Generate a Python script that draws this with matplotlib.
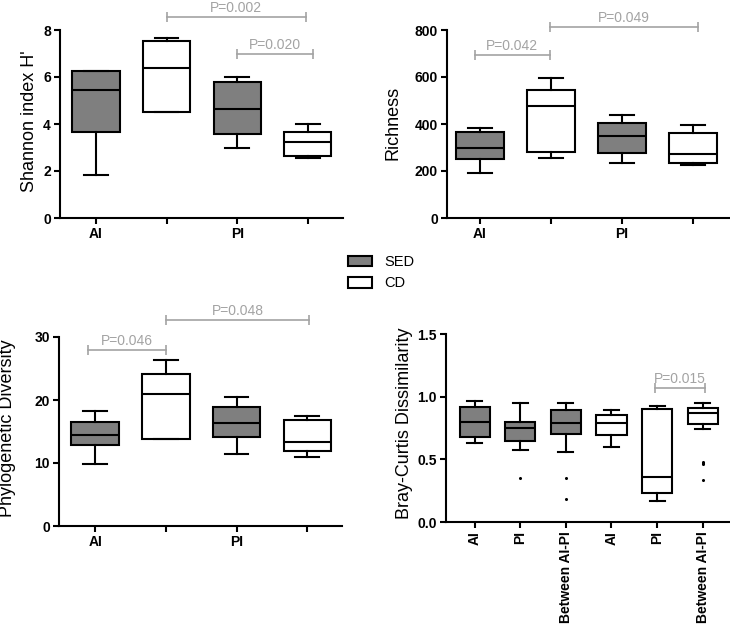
import matplotlib
matplotlib.use("Agg")
import matplotlib.pyplot as plt
from matplotlib.patches import Patch

plt.rcParams["font.family"] = ["Liberation Sans", "DejaVu Sans"]

SED_COLOR = "#7f7f7f"
CD_COLOR = "white"
P_COLOR = "#a3a3a3"

# box order in the three top/left panels: AI-SED, AI-CD, PI-SED, PI-CD
group_fill = [SED_COLOR, CD_COLOR, SED_COLOR, CD_COLOR]
group_labels = ["AI", "", "PI", ""]

# Shannon index H'
shannon_lo = [1.85, 4.49, 2.97, 2.54]
shannon_q1 = [3.65, 4.49, 3.56, 2.63]
shannon_med = [5.43, 6.40, 4.62, 3.24]
shannon_q3 = [6.24, 7.52, 5.79, 3.64]
shannon_hi = [6.27, 7.65, 6.00, 3.98]

# Richness
rich_lo = [190, 257, 233, 224]
rich_q1 = [251, 279, 278, 234]
rich_med = [298, 478, 351, 272]
rich_q3 = [364, 546, 405, 361]
rich_hi = [381, 594, 437, 395]

# Phylogenetic diversity
pd_lo = [9.8, 13.75, 11.5, 11.0]
pd_q1 = [12.9, 13.75, 14.1, 11.9]
pd_med = [14.5, 20.9, 16.4, 13.3]
pd_q3 = [16.5, 24.2, 18.9, 16.9]
pd_hi = [18.3, 26.4, 20.4, 17.5]

# Bray-Curtis: SED (AI, PI, Between) then CD (AI, PI, Between)
bc_labels = ["AI", "PI", "Between AI-PI", "AI", "PI", "Between AI-PI"]
bc_fill = [SED_COLOR] * 3 + [CD_COLOR] * 3
bc_lo = [0.63, 0.578, 0.557, 0.60, 0.168, 0.746]
bc_q1 = [0.68, 0.646, 0.70, 0.693, 0.234, 0.778]
bc_med = [0.80, 0.75, 0.79, 0.786, 0.357, 0.866]
bc_q3 = [0.92, 0.80, 0.893, 0.85, 0.903, 0.906]
bc_hi = [0.965, 0.946, 0.95, 0.89, 0.925, 0.95]
bc_out = [[], [0.354], [0.354, 0.187], [], [], [0.478, 0.470, 0.466, 0.333]]

# significance brackets: (x start, x end, y, label)
shannon_p = [(1.0, 2.97, 8.54, "P=0.002"), (2.0, 3.07, 6.98, "P=0.020")]
rich_p = [(-0.07, 0.99, 694, "P=0.042"), (0.99, 3.07, 811, "P=0.049")]
pd_p = [(-0.1, 1.0, 27.9, "P=0.046"), (1.0, 3.03, 32.7, "P=0.048")]
bc_p = [(3.95, 5.05, 1.066, "P=0.015")]


def make_stats(lo, q1, med, q3, hi, out=None):
    stats = []
    for i in range(len(med)):
        stats.append({
            "whislo": lo[i], "q1": q1[i], "med": med[i],
            "q3": q3[i], "whishi": hi[i],
            "fliers": out[i] if out else [],
        })
    return stats


def draw_boxes(ax, stats, fills, width):
    lw = 1.5
    res = ax.bxp(
        stats, positions=range(len(stats)), widths=width,
        capwidths=width * 0.5, patch_artist=True,
        boxprops=dict(linewidth=lw, edgecolor="black"),
        medianprops=dict(color="black", linewidth=lw),
        whiskerprops=dict(color="black", linewidth=lw),
        capprops=dict(color="black", linewidth=lw),
        flierprops=dict(marker="o", markersize=1.2, markerfacecolor="black",
                        markeredgecolor="black", linestyle="none"),
    )
    for box, c in zip(res["boxes"], fills):
        box.set_facecolor(c)


def style_axes(ax, yticks, yfmt, xlim):
    for s in ["top", "right"]:
        ax.spines[s].set_visible(False)
    for s in ["left", "bottom"]:
        ax.spines[s].set_linewidth(1.5)
    ax.set_xlim(*xlim)
    ax.set_ylim(yticks[0], yticks[-1])
    ax.set_yticks(yticks, [yfmt.format(t) for t in yticks], fontweight="bold")
    ax.tick_params(direction="out", length=4.5, width=1.5, labelsize=10, pad=2)


def brackets(ax, items):
    for x0, x1, y, txt in items:
        ax.plot([x0, x1], [y, y], color=P_COLOR, lw=1.2, marker="|",
                markersize=7, markeredgewidth=1.2, clip_on=False)
        ax.annotate(txt, xy=((x0 + x1) / 2, y), xytext=(0, 1.5),
                    textcoords="offset points", ha="center", va="bottom",
                    color=P_COLOR, fontsize=10, annotation_clip=False)


fig = plt.figure(figsize=(7.3, 6.25), dpi=100)

ax1 = fig.add_axes([0.0822, 0.6512, 0.3877, 0.3008])
ax2 = fig.add_axes([0.6123, 0.6512, 0.3877, 0.3008])
ax3 = fig.add_axes([0.0808, 0.1584, 0.3877, 0.3024])
ax4 = fig.add_axes([0.6110, 0.1648, 0.3890, 0.3008])

panels = [
    (ax1, make_stats(shannon_lo, shannon_q1, shannon_med, shannon_q3, shannon_hi),
     [0, 2, 4, 6, 8], "{:d}", (-0.51, 3.5), shannon_p, "Shannon index H'", (-0.078, 0.516)),
    (ax2, make_stats(rich_lo, rich_q1, rich_med, rich_q3, rich_hi),
     [0, 200, 400, 600, 800], "{:d}", (-0.46, 3.52), rich_p, "Richness", (-0.159, 0.505)),
    (ax3, make_stats(pd_lo, pd_q1, pd_med, pd_q3, pd_hi),
     [0, 10, 20, 30], "{:d}", (-0.51, 3.49), pd_p, "Phylogenetic Diversity", (-0.152, 0.518)),
]

for ax, stats, yt, fmt, xl, pv, ylab, lc in panels:
    draw_boxes(ax, stats, group_fill, 0.67)
    style_axes(ax, yt, fmt, xl)
    ax.set_xticks(range(4), group_labels, fontweight="bold")
    ax.set_ylabel(ylab, fontsize=13)
    ax.yaxis.set_label_coords(*lc)
    brackets(ax, pv)

draw_boxes(ax4, make_stats(bc_lo, bc_q1, bc_med, bc_q3, bc_hi, bc_out), bc_fill, 0.66)
style_axes(ax4, [0.0, 0.5, 1.0, 1.5], "{:.1f}", (-0.63, 5.6))
ax4.set_xticks(range(6), bc_labels, fontweight="bold", rotation=90)
ax4.set_ylabel("Bray-Curtis Dissimilarity", fontsize=13)
ax4.yaxis.set_label_coords(-0.116, 0.524)
brackets(ax4, bc_p)

handles = [Patch(facecolor=SED_COLOR, edgecolor="black", linewidth=1.5, label="SED"),
           Patch(facecolor=CD_COLOR, edgecolor="black", linewidth=1.5, label="CD")]
fig.legend(handles=handles, loc="upper left", bbox_to_anchor=(0.477, 0.592),
           frameon=False, fontsize=10.5, handlelength=1.6, handleheight=0.75,
           handletextpad=0.9, labelspacing=0.5, borderpad=0, borderaxespad=0)

fig.savefig("out.png", dpi=100)
